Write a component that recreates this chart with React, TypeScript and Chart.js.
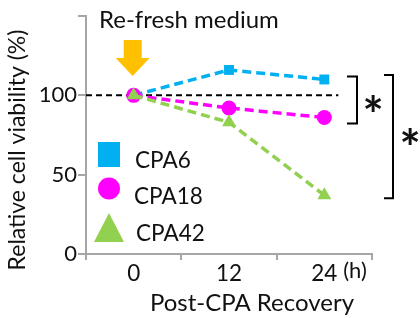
import React, { useEffect, useRef } from 'react';
import { Chart, registerables } from 'chart.js';
Chart.register(...registerables);

const categories = ['0', '12', '24'];
const seriesNames = ['CPA6', 'CPA18', 'CPA42'];
const cpa6 = [100, 116, 110];
const cpa18 = [100, 92, 86];
const cpa42 = [100, 83, 37];
const yTicks = [0, 50, 100, 150];
const yLabelled = [0, 50, 100];
const referenceValue = 100;
const annotationTitle = 'Re-fresh medium';
const xTitle = 'Post-CPA Recovery';
const yTitle = 'Relative cell viability (%)';
const unitLabel = '(h)';
const sigMark = '*';

const FONT = 'Lato, "Open Sans", sans-serif';
const CYAN = '#00B0F0';
const MAGENTA = '#FF00FF';
const GREEN = '#92D050';
const ORANGE = '#FFC000';
const AXIS = '#a6a6a6';
const TEXT = '#111111';

function centeredGlyph(ctx: CanvasRenderingContext2D, s: string, cx: number, cy: number) {
  const m = ctx.measureText(s);
  const w = m.actualBoundingBoxRight + m.actualBoundingBoxLeft;
  const h = m.actualBoundingBoxAscent + m.actualBoundingBoxDescent;
  ctx.textAlign = 'left';
  ctx.textBaseline = 'alphabetic';
  ctx.fillText(s, cx - w / 2 + m.actualBoundingBoxLeft, cy - h / 2 + m.actualBoundingBoxAscent);
}

const overlay = {
  id: 'overlay',
  beforeDatasetsDraw(chart: any) {
    const { ctx, chartArea, scales } = chart;
    const x = scales.x, y = scales.y;
    const yy = y.getPixelForValue(referenceValue);
    ctx.save();
    ctx.strokeStyle = '#000';
    ctx.lineWidth = 2;
    ctx.setLineDash([6, 4]);
    ctx.beginPath();
    ctx.moveTo(chartArea.left, yy);
    ctx.lineTo(x.getPixelForValue(2) + 14, yy);
    ctx.stroke();
    ctx.restore();
  },
  afterDraw(chart: any) {
    const { ctx, scales } = chart;
    const x = scales.x, y = scales.y;
    ctx.save();
    ctx.fillStyle = TEXT;
    // annotation title
    ctx.textAlign = 'left';
    ctx.textBaseline = 'alphabetic';
    ctx.font = `24px ${FONT}`;
    ctx.fillText(annotationTitle, 99, 28);
    // arrow
    const ax = x.getPixelForValue(0) - 1;
    ctx.fillStyle = ORANGE;
    ctx.beginPath();
    ctx.moveTo(ax - 9, 40);
    ctx.lineTo(ax + 9, 40);
    ctx.lineTo(ax + 9, 58);
    ctx.lineTo(ax + 17, 58);
    ctx.lineTo(ax, 76);
    ctx.lineTo(ax - 17, 58);
    ctx.lineTo(ax - 9, 58);
    ctx.closePath();
    ctx.fill();
    // axis titles
    ctx.fillStyle = TEXT;
    ctx.textAlign = 'center';
    ctx.font = `24px ${FONT}`;
    ctx.fillText(xTitle, 252, 311);
    ctx.font = `22px ${FONT}`;
    ctx.textBaseline = 'middle';
    ctx.fillText(unitLabel, 355, 271);
    ctx.save();
    ctx.font = `23px ${FONT}`;
    ctx.translate(18, 150);
    ctx.rotate(-Math.PI / 2);
    ctx.fillText(yTitle, 0, 0);
    ctx.restore();
    // legend
    const ds = chart.data.datasets;
    const lx = 109;
    ctx.fillStyle = ds[0].borderColor;
    ctx.fillRect(lx - 11, 142, 22, 25);
    ctx.fillStyle = ds[1].borderColor;
    ctx.beginPath();
    ctx.arc(lx, 188.5, 11, 0, Math.PI * 2);
    ctx.fill();
    ctx.fillStyle = ds[2].borderColor;
    ctx.beginPath();
    ctx.moveTo(lx, 213);
    ctx.lineTo(lx + 15, 242);
    ctx.lineTo(lx - 15, 242);
    ctx.closePath();
    ctx.fill();
    ctx.fillStyle = TEXT;
    ctx.textAlign = 'left';
    ctx.textBaseline = 'alphabetic';
    ctx.font = `22.5px ${FONT}`;
    ctx.fillText(ds[0].label, 135, 168);
    ctx.fillText(ds[1].label, 134, 204);
    ctx.fillText(ds[2].label, 136, 241);
    // brackets
    ctx.strokeStyle = '#000';
    ctx.lineWidth = 2;
    const b1t = y.getPixelForValue(cpa6[2]) - 3;
    const b1b = y.getPixelForValue(cpa18[2]) + 6;
    ctx.beginPath();
    ctx.moveTo(347, b1t);
    ctx.lineTo(357, b1t);
    ctx.lineTo(357, b1b);
    ctx.lineTo(347, b1b);
    ctx.stroke();
    const b2t = 75;
    const b2b = y.getPixelForValue(cpa42[2]) + 3;
    ctx.beginPath();
    ctx.moveTo(384, b2t);
    ctx.lineTo(393, b2t);
    ctx.lineTo(393, b2b);
    ctx.lineTo(384, b2b);
    ctx.stroke();
    ctx.font = `bold 50px ${FONT}`;
    centeredGlyph(ctx, sigMark, 373, 103);
    centeredGlyph(ctx, sigMark, 410, 136);
    ctx.restore();
  },
};

export default function App() {
  const ref = useRef<HTMLCanvasElement>(null);
  useEffect(() => {
    if (!ref.current) return;
    const mk = (label: string, data: number[], color: string, style: string, r: number, order: number) => ({
      label,
      data,
      borderColor: color,
      backgroundColor: color,
      borderWidth: 3.5,
      borderDash: [9, 5],
      pointStyle: style,
      pointRadius: r,
      pointBorderWidth: 0,
      pointBackgroundColor: color,
      order,
    });
    const chart = new Chart(ref.current, {
      type: 'line',
      data: {
        labels: categories,
        datasets: [
          mk(seriesNames[0], cpa6, CYAN, 'rect', 7, 2),
          mk(seriesNames[1], cpa18, MAGENTA, 'circle', 7.5, 1),
          mk(seriesNames[2], cpa42, GREEN, 'triangle', 8, 0),
        ],
      },
      options: {
        responsive: false,
        animation: false,
        devicePixelRatio: 1,
        layout: { padding: { top: 16, right: 48, left: 0, bottom: 0 } },
        plugins: { legend: { display: false }, tooltip: { enabled: false } },
        scales: {
          x: {
            type: 'category',
            offset: true,
            grid: { offset: true, drawOnChartArea: false, tickLength: 6, color: AXIS, lineWidth: 2 },
            border: { color: AXIS, width: 2 },
            ticks: { font: { family: FONT, size: 22.5 }, color: TEXT, padding: 0, maxRotation: 0 },
            afterFit: (s: any) => { s.height = 64; },
          },
          y: {
            min: 0,
            max: 150,
            afterBuildTicks: (s: any) => { s.ticks = yTicks.map((v) => ({ value: v })); },
            grid: { drawOnChartArea: false, tickLength: 8, color: AXIS, lineWidth: 2 },
            border: { color: AXIS, width: 2 },
            ticks: {
              font: { family: FONT, size: 22 },
              color: TEXT,
              padding: 1,
              callback: (v: any) => (yLabelled.includes(Number(v)) ? String(v) : ''),
            },
            afterFit: (s: any) => { s.width = 86; },
          },
        },
      },
      plugins: [overlay],
    });
    return () => chart.destroy();
  }, []);
  return (
    <div style={{ position: 'fixed', left: 0, top: 0, width: 420, height: 318, background: '#fff' }}>
      <canvas ref={ref} width={420} height={318} />
    </div>
  );
}
